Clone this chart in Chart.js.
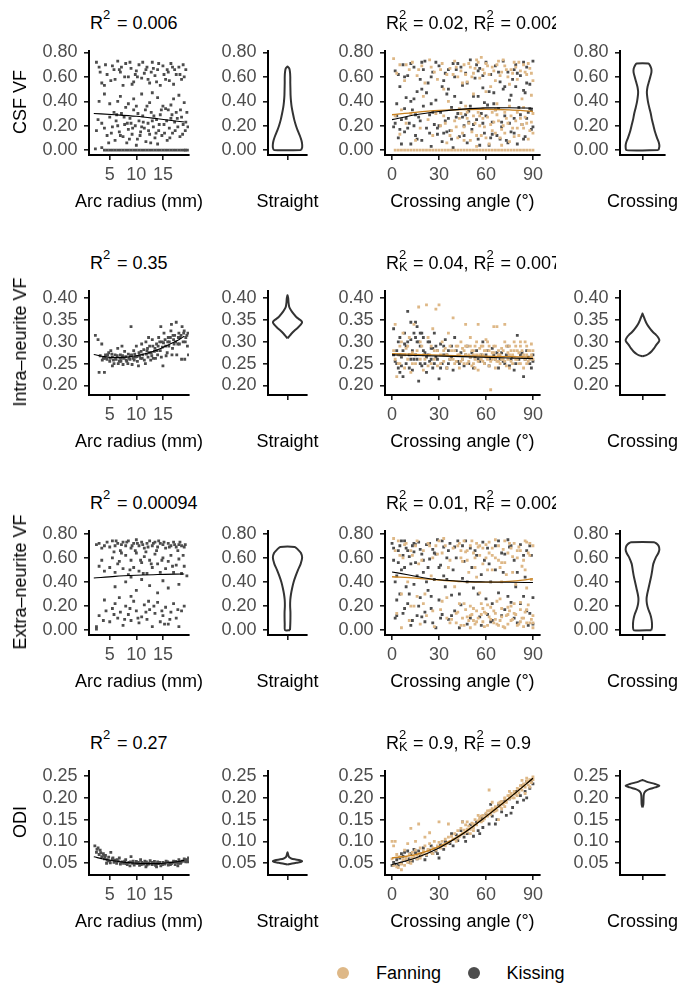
<!DOCTYPE html>
<html><head><meta charset="utf-8">
<script src="https://cdn.jsdelivr.net/npm/chart.js@4/dist/chart.umd.min.js"></script>
<style>
html,body{margin:0;padding:0;background:#fff}
#wrap{position:relative;width:680px;height:987px;overflow:hidden;font-family:'Liberation Sans',Arial,sans-serif;font-size:18px;color:#000}
canvas{position:absolute}
.t{position:absolute;white-space:nowrap;line-height:20px;height:20px}
.c{text-align:center;width:240px}
.clip{overflow:hidden;height:30px;padding-top:0}
.ss{display:inline-block;position:relative;width:9px;height:18px;vertical-align:baseline}
.ss i,.ss b{position:absolute;left:0;font-style:normal;font-weight:normal;font-size:13px;line-height:13px}
.ss i{top:-3px}.ss b{top:9.6px}
.yt{transform:translate(-50%,-50%) rotate(-90deg)}
.dot{position:absolute;width:12px;height:12px;border-radius:50%}
</style></head><body><div id="wrap"></div>
<script>
// ---------------- DATA ----------------
const rowNames = ['CSF VF','Intra\u2013neurite VF','Extra\u2013neurite VF','ODI'];
const straightR2 = ['0.006','0.35','0.00094','0.27'];
const crossR2K = ['0.02','0.04','0.01','0.9'];
const crossR2F = ['0.002','0.007','0.002','0.9'];
const seriesNames = ['Fanning','Kissing'];

const arcTicks = [5,10,15];
const angleTicks = [0,30,60,90];
const yTicksVF = [0,0.2,0.4,0.6,0.8];
const yTicksIntra = [0.2,0.25,0.3,0.35,0.4];
const yTicksODI = [0.05,0.1,0.15,0.2,0.25];

// straight fibre: [arc radius, value] pairs
const csfStraight = [4,0,5,0,6.5,0,8,0,9,0,10.5,0,11.5,0,12.5,0,13.5,0,14.5,0,15.5,0,16.5,0,17.5,0,18.5,0,19.2,0,3.5,0.02,2.3,0.01,7,0,
2.5,0.16,3.5,0.22,4.5,0.12,5,0.27,5.5,0.19,6,0.08,6.2,0.24,6.8,0.15,7.2,0.30,7.5,0.11,7.8,0.21,8.2,0.06,8.5,0.17,8.8,0.26,9.2,0.13,9.5,0.33,9.8,0.20,10.2,0.09,10.5,0.24,10.8,0.15,11.2,0.28,11.5,0.18,11.8,0.07,12.2,0.22,12.5,0.13,12.8,0.31,13.2,0.19,13.5,0.10,13.8,0.25,14.2,0.16,14.5,0.29,14.8,0.12,15.2,0.21,15.5,0.34,15.8,0.08,16.2,0.18,16.5,0.26,16.8,0.14,17.2,0.23,17.5,0.31,17.8,0.19,18.2,0.11,18.5,0.27,18.8,0.21,19.2,0.16,19.5,0.31,5.8,0.31,8,0.35,10,0.04,12,0.36,14,0.05,16,0.33,6.5,0.20,11,0.19,13,0.24,9,0.22,
3,0.40,7,0.44,8.5,0.38,9.5,0.42,11,0.46,12.5,0.39,14,0.43,16.5,0.37,18,0.45,19,0.39,10,0.36,5,0.38,
2.5,0.72,3,0.68,3.5,0.55,4,0.53,4.5,0.62,5.5,0.69,6,0.58,6.5,0.73,7,0.64,7.5,0.53,8,0.71,8.5,0.60,9,0.67,9.5,0.56,10,0.65,10.5,0.70,11,0.59,11.5,0.63,12,0.68,12.5,0.55,13,0.72,13.5,0.61,14,0.66,14.5,0.53,15,0.69,15.5,0.58,16,0.64,16.5,0.71,17,0.54,17.5,0.62,18,0.68,18.5,0.58,19,0.60,6.8,0.66,9.8,0.62,12.8,0.64,15.8,0.66,
4.5,0,5.5,0,6,0,7.5,0,8.5,0,9.5,0,10,0,11,0,12,0,13,0,14,0,15,0,16,0,17,0,18,0,19,0,19.6,0,
2.8,0.25,4,0.18,4.8,0.06,5.3,0.14,6.3,0.29,7,0.12,7.7,0.27,8.3,0.22,8.7,0.09,9.3,0.18,10.3,0.30,10.7,0.12,11.3,0.23,11.7,0.33,12.3,0.16,12.7,0.06,13.3,0.28,13.7,0.14,14.3,0.21,14.7,0.33,15.3,0.14,15.7,0.24,16.3,0.10,16.7,0.29,17.3,0.16,17.7,0.26,18.3,0.33,18.7,0.13,19.3,0.23,19.7,0.19,
3.2,0.64,4.2,0.70,5.2,0.57,5.8,0.66,7.2,0.68,7.8,0.60,8.8,0.72,9.2,0.54,10.2,0.60,11.2,0.72,11.8,0.66,12.2,0.58,13.2,0.67,13.8,0.56,14.2,0.71,15.2,0.62,16.2,0.57,16.8,0.68,17.2,0.66,18.2,0.62,18.8,0.70,19.3,0.66,
4,0.46,6.5,0.40,13,0.47,15,0.36,17,0.42];
const intraStraight = [2.3,0.315,2.8,0.305,3,0.23,3.5,0.295,4,0.23,4.2,0.27,4.5,0.26,4.8,0.275,5,0.255,5.2,0.28,5.5,0.265,5.8,0.25,6,0.27,6.2,0.26,6.5,0.285,6.8,0.255,7,0.27,7.2,0.262,7.5,0.248,7.8,0.278,8,0.266,8.2,0.255,8.5,0.272,8.8,0.26,9,0.335,9.2,0.248,9.5,0.28,9.8,0.265,10,0.29,10.2,0.255,10.5,0.275,10.8,0.262,11,0.295,11.2,0.27,11.5,0.258,11.8,0.3,12,0.28,12.2,0.265,12.5,0.29,12.8,0.275,13,0.305,13.2,0.262,13.5,0.285,13.8,0.295,14,0.27,14.2,0.31,14.5,0.28,14.8,0.3,15,0.245,15.2,0.32,15.5,0.29,15.8,0.275,16,0.31,16.2,0.3,16.5,0.325,16.8,0.285,17,0.305,17.2,0.315,17.5,0.345,17.8,0.295,18,0.32,18.2,0.31,18.5,0.26,18.8,0.3,19,0.325,19.3,0.31,19.6,0.29,19.8,0.27,14.6,0.335,16.6,0.34,12.3,0.31,7.3,0.29,5.5,0.245,6.6,0.25,8.4,0.25,10.4,0.245,11.7,0.25,13.6,0.262,15.6,0.268,17.6,0.27,18.6,0.335,9.6,0.258,3.8,0.262,19.1,0.26,
3.2,0.268,3.6,0.258,4.1,0.262,4.6,0.27,5.1,0.262,5.4,0.272,5.7,0.258,6.1,0.262,6.4,0.268,6.9,0.262,7.1,0.255,7.4,0.268,7.7,0.262,8.1,0.258,8.6,0.262,8.9,0.268,9.1,0.27,9.4,0.262,9.7,0.272,10.1,0.266,10.6,0.268,10.9,0.278,11.1,0.262,11.4,0.282,11.9,0.272,12.1,0.285,12.4,0.275,12.9,0.268,13.1,0.29,13.4,0.278,13.9,0.28,14.1,0.29,14.4,0.3,14.9,0.288,15.1,0.298,15.4,0.305,15.9,0.3,16.1,0.29,16.4,0.31,16.9,0.315,17.1,0.295,17.4,0.3,17.9,0.31,18.1,0.295,18.4,0.315,18.9,0.32,19.2,0.3,19.5,0.315,19.7,0.32,16.7,0.27,14.7,0.265,12.7,0.258];
const extraStraight = [2.5,0.71,3.5,0.68,4.5,0.73,5,0.69,5.5,0.74,6,0.70,6.5,0.72,7,0.66,7.5,0.73,8,0.70,8.5,0.74,9,0.68,9.5,0.72,10,0.75,10.5,0.70,11,0.73,11.5,0.68,12,0.72,12.5,0.74,13,0.70,13.5,0.73,14,0.69,14.5,0.72,15,0.71,15.5,0.68,16,0.72,16.5,0.70,17,0.73,17.5,0.69,18,0.71,18.5,0.70,19,0.69,
3,0.53,4,0.49,5.5,0.60,6,0.48,6.8,0.57,7.5,0.51,8,0.62,8.5,0.46,9,0.58,9.5,0.52,10,0.64,10.5,0.49,11,0.56,11.5,0.61,12,0.47,12.5,0.58,13,0.52,13.5,0.63,14,0.55,14.5,0.48,15,0.60,15.5,0.51,16,0.57,16.5,0.62,17,0.48,17.5,0.54,18,0.59,18.5,0.47,19,0.53,19.5,0.45,7.2,0.64,11.8,0.65,
6,0.36,8,0.40,10,0.33,11,0.42,12.5,0.37,14,0.31,15,0.41,16,0.35,18,0.38,9,0.44,
2.5,0.03,3,0.12,4,0.25,5,0.07,5.5,0.18,6,0.22,6.5,0.10,7,0.15,7.5,0.04,8,0.20,8.5,0.13,9,0.08,9.5,0.24,10,0.16,10.5,0.06,11,0.11,11.5,0.21,12,0.09,12.5,0.17,13,0.03,13.5,0.14,14,0.23,14.5,0.07,15,0.12,15.5,0.19,16,0.05,16.5,0.15,17,0.22,17.5,0.10,18,0.03,18.5,0.16,19,0.20,2.5,0.01,9,0.28,
3,0.72,4,0.70,6.2,0.74,7.2,0.71,8.2,0.73,9.2,0.70,10.2,0.72,11.2,0.71,12.2,0.69,13.2,0.72,14.2,0.74,15.2,0.73,16.2,0.69,17.2,0.71,18.2,0.73,19.2,0.71,5.8,0.65,9.8,0.66,13.8,0.66,17.8,0.66,
3.5,0.58,5,0.52,6.5,0.55,8.8,0.50,10.8,0.58,12.8,0.55,14.8,0.58,16.8,0.53,18.8,0.62,11.3,0.47,
3.8,0.08,5.8,0.13,7.8,0.09,8.8,0.18,10.3,0.10,11.8,0.15,13.3,0.20,14.8,0.16,16.3,0.09,17.8,0.17,12.3,0.24,15.3,0.05,6.8,0.27,4.3,0.16];
const odiStraight = [2.2,0.09,2.5,0.075,2.8,0.085,3,0.07,3.2,0.08,3.5,0.065,3.8,0.072,4,0.06,4.2,0.068,4.5,0.058,4.8,0.064,5,0.055,5.2,0.075,5.5,0.06,5.8,0.052,6,0.057,6.3,0.05,6.6,0.055,7,0.048,7.3,0.053,7.6,0.05,8,0.058,8.3,0.047,8.6,0.052,9,0.065,9.3,0.05,9.6,0.046,10,0.054,10.3,0.049,10.6,0.045,11,0.052,11.3,0.048,11.6,0.055,12,0.046,12.3,0.05,12.6,0.056,13,0.047,13.3,0.051,13.6,0.045,14,0.053,14.3,0.049,14.6,0.044,15,0.052,15.3,0.048,15.6,0.055,16,0.046,16.3,0.051,16.6,0.049,17,0.055,17.3,0.047,17.6,0.052,18,0.058,18.3,0.05,18.6,0.055,19,0.06,19.3,0.053,19.6,0.057,19.8,0.062,4.4,0.05,6.8,0.062,10.8,0.058,13.8,0.042,17.8,0.044,11.8,0.042,8.8,0.044,
5.1,0.051,5.9,0.055,6.4,0.058,7.1,0.051,7.8,0.055,8.1,0.049,8.9,0.053,9.4,0.055,9.9,0.05,10.4,0.052,10.9,0.047,11.4,0.05,11.9,0.053,12.4,0.048,12.9,0.052,13.4,0.054,13.9,0.049,14.4,0.052,14.9,0.047,15.4,0.05,15.9,0.053,16.4,0.047,16.9,0.052,17.4,0.054,17.9,0.05,18.4,0.052,18.9,0.055,19.4,0.058,19.7,0.053,4.1,0.064,4.7,0.056,5.6,0.062,3.3,0.074,2.6,0.082,3.9,0.068];

// crossing fibres: [angle, value] pairs
const csfKiss = [1,0.19,2,0.65,3,0.38,4,0.10,5,0.52,6,0.25,7,0.70,8,0.15,9,0.43,10,0.61,11,0.22,12,0.05,13,0.33,14,0.68,15,0.12,16,0.48,17,0.27,18,0.58,19,0.08,20,0.36,21,0.73,22,0.18,23,0.55,24,0.29,25,0.03,26,0.64,27,0.21,28,0.41,29,0.13,30,0.69,31,0.31,32,0.07,33,0.57,34,0.24,35,0.46,36,0.66,37,0.16,38,0.35,39,0.02,40,0.60,41,0.27,42,0.71,43,0.11,44,0.39,45,0.53,46,0.20,47,0.63,48,0.06,49,0.32,50,0.74,51,0.17,52,0.44,53,0.59,54,0.25,55,0.09,56,0.67,57,0.30,58,0.51,59,0.14,60,0.72,61,0.37,62,0.04,63,0.62,64,0.23,65,0.47,66,0.69,67,0.12,68,0.34,69,0.56,70,0.19,71,0.73,72,0.28,73,0.08,74,0.64,75,0.41,76,0.15,77,0.58,78,0.26,79,0.70,80,0.05,81,0.35,82,0.61,83,0.21,84,0.49,85,0.11,86,0.68,87,0.31,88,0.54,89,0.17,90,0.73,3,0.28,8,0.60,14,0.20,19,0.72,25,0.38,33,0.14,41,0.66,47,0.29,55,0.44,63,0.10,71,0.50,78,0.66,86,0.26,12,0.40,36,0.50,58,0.22,84,0.72,
2,0.22,4,0.62,6,0.05,8,0.34,10,0.18,12,0.71,14,0.42,16,0.09,18,0.24,20,0.66,22,0.47,24,0.14,26,0.31,28,0.72,30,0.20,32,0.52,34,0.63,36,0.26,38,0.09,40,0.44,42,0.30,44,0.68,46,0.12,48,0.55,50,0.36,52,0.21,54,0.70,56,0.04,58,0.61,60,0.28,62,0.48,64,0.13,66,0.33,68,0.64,70,0.23,72,0.52,74,0.06,76,0.45,78,0.14,80,0.63,82,0.29,84,0.09,86,0.55,88,0.34,90,0.19,5,0.17,15,0.29,25,0.60,35,0.15,45,0.27,55,0.65,65,0.38,75,0.22,85,0.47,9,0.26,19,0.50,29,0.18,39,0.71,49,0.23,59,0.39,69,0.09,79,0.52,89,0.33];
const csfFan = [2,0,6,0,10,0,14,0,18,0,22,0,26,0,30,0,34,0,38,0,42,0,46,0,50,0,54,0,58,0,62,0,66,0,70,0,74,0,78,0,82,0,86,0,90,0,
1,0.75,3,0.63,5,0.70,8,0.57,11,0.66,13,0.72,16,0.61,19,0.69,21,0.55,24,0.74,27,0.64,29,0.58,32,0.71,35,0.62,37,0.67,40,0.73,42,0.60,44,0.65,46,0.70,48,0.56,50,0.68,52,0.63,54,0.74,56,0.59,58,0.66,60,0.71,62,0.62,64,0.68,66,0.57,68,0.73,70,0.64,72,0.69,74,0.60,76,0.66,78,0.72,80,0.58,82,0.65,84,0.70,86,0.62,88,0.67,90,0.57,57,0.76,45,0.55,63,0.52,75,0.54,33,0.50,
6,0.33,20,0.44,36,0.40,52,0.46,67,0.38,83,0.42,43,0.34,60,0.48,75,0.36,89,0.45,28,0.30,
2,0.28,5,0.13,9,0.22,12,0.30,15,0.08,18,0.18,23,0.25,26,0.12,31,0.20,33,0.28,35,0.06,38,0.16,40,0.24,42,0.10,44,0.30,46,0.19,48,0.26,50,0.08,51,0.15,53,0.22,55,0.31,57,0.12,59,0.19,61,0.27,62,0.05,64,0.16,65,0.23,67,0.29,69,0.10,71,0.20,72,0.14,73,0.26,75,0.07,77,0.18,79,0.24,80,0.31,81,0.12,83,0.21,85,0.27,87,0.09,88,0.16,89,0.23,90,0.30,58,0.34,66,0.33,47,0.36,84,0.35,54,0.03,70,0.04,
4,0,8,0,12,0,16,0,20,0,24,0,28,0,32,0,36,0,40,0,44,0,48,0,52,0,56,0,60,0,64,0,68,0,72,0,76,0,80,0,84,0,88,0,
47,0.62,49,0.71,51,0.60,53,0.67,55,0.72,59,0.63,61,0.69,65,0.65,67,0.70,69,0.61,71,0.74,73,0.66,77,0.63,79,0.68,81,0.72,85,0.64,87,0.71,89,0.63,41,0.68,39,0.62,31,0.66,25,0.68,17,0.66,9,0.70,
34,0.22,37,0.12,41,0.19,43,0.26,45,0.14,49,0.22,52,0.28,54,0.12,56,0.20,58,0.26,60,0.10,63,0.21,66,0.14,68,0.24,70,0.17,74,0.22,76,0.28,78,0.11,82,0.26,84,0.18,86,0.22,90,0.14,46,0.08,64,0.31,72,0.31,80,0.18,56,0.28,48,0.31];
const intraKiss = [1,0.33,2,0.255,3,0.28,4,0.24,5,0.31,6,0.265,7,0.22,8,0.295,9,0.25,10,0.37,11,0.27,12,0.305,13,0.235,14,0.32,15,0.345,16,0.26,17,0.21,18,0.29,19,0.245,20,0.31,21,0.275,22,0.23,23,0.3,24,0.255,25,0.285,26,0.24,27,0.32,28,0.265,29,0.28,30,0.215,31,0.295,32,0.25,33,0.27,34,0.305,35,0.24,36,0.28,37,0.26,38,0.29,39,0.235,40,0.31,42,0.255,44,0.275,46,0.245,48,0.29,50,0.265,52,0.24,54,0.28,56,0.255,58,0.3,60,0.27,62,0.245,64,0.285,66,0.26,68,0.24,70,0.275,72,0.25,74,0.29,76,0.26,78,0.235,80,0.315,82,0.27,84,0.22,86,0.28,88,0.25,90,0.27,89,0.24,85,0.26,75,0.245,65,0.27,55,0.26,45,0.26,35,0.27,25,0.26,15,0.27,5,0.27,8,0.32,12,0.26,20,0.28,17,0.3,
1,0.27,3,0.25,4,0.3,6,0.245,7,0.28,9,0.29,11,0.24,13,0.28,14,0.26,16,0.3,18,0.25,19,0.32,21,0.25,23,0.27,24,0.3,26,0.285,27,0.25,29,0.26,31,0.24,33,0.29,36,0.25,38,0.265,41,0.28,43,0.25,47,0.27,49,0.25,51,0.275,53,0.265,57,0.27,59,0.25,61,0.28,63,0.26,67,0.275,69,0.26,71,0.255,73,0.27,77,0.265,79,0.25,81,0.26,83,0.275,87,0.265,90,0.255,10,0.3,15,0.31,12,0.345,16,0.335,18,0.32,5,0.23,22,0.265,28,0.29];
const intraFan = [2,0.34,3,0.22,4,0.27,5,0.25,6,0.3,7,0.32,8,0.24,9,0.285,10,0.26,11,0.31,12,0.23,13,0.275,14,0.34,15,0.25,17,0.38,18,0.26,19,0.29,20,0.235,22,0.385,23,0.31,24,0.27,25,0.25,26,0.33,27,0.28,28,0.375,29,0.245,30,0.385,31,0.27,32,0.3,33,0.255,34,0.285,35,0.24,36,0.32,37,0.26,38,0.28,39,0.355,40,0.25,41,0.29,42,0.27,43,0.24,44,0.3,45,0.26,46,0.28,47,0.34,48,0.25,49,0.27,50,0.29,51,0.245,52,0.28,53,0.26,54,0.3,55,0.235,56,0.27,57,0.29,58,0.255,59,0.28,60,0.265,61,0.3,62,0.245,63,0.19,64,0.275,65,0.29,66,0.26,67,0.335,68,0.27,69,0.25,70,0.285,71,0.26,72,0.3,73,0.245,74,0.275,75,0.29,76,0.255,77,0.27,78,0.3,79,0.26,80,0.28,81,0.25,82,0.29,83,0.265,84,0.24,85,0.3,86,0.27,87,0.255,88,0.28,89,0.295,90,0.26,65,0.335,72,0.34,55,0.34,47,0.29,58,0.27,68,0.255,78,0.265,86,0.29,52,0.27,62,0.28,
1,0.28,2,0.26,4,0.25,5,0.29,6,0.27,8,0.27,10,0.29,12,0.27,13,0.25,16,0.28,18,0.3,20,0.27,21,0.26,23,0.245,25,0.29,27,0.26,29,0.28,31,0.25,33,0.28,35,0.27,37,0.29,39,0.26,40,0.28,41,0.255,42,0.29,43,0.27,44,0.255,45,0.285,46,0.25,47,0.27,48,0.29,49,0.255,50,0.265,51,0.28,52,0.25,53,0.29,54,0.27,55,0.255,56,0.285,57,0.26,58,0.29,59,0.25,60,0.28,61,0.26,62,0.29,63,0.255,64,0.26,65,0.275,66,0.29,67,0.255,68,0.28,69,0.27,70,0.26,71,0.28,72,0.255,73,0.29,74,0.26,75,0.27,76,0.28,77,0.25,78,0.28,79,0.29,80,0.26,81,0.275,82,0.25,83,0.28,84,0.27,85,0.26,86,0.25,87,0.28,88,0.26,89,0.27,90,0.28,53,0.24,66,0.24,75,0.24,82,0.3,50,0.31,60,0.305];
const extraKiss = [0,0.72,1,0.58,2,0.10,3,0.45,4,0.66,5,0.30,6,0.74,7,0.14,8,0.52,9,0.68,10,0.22,11,0.61,12,0.04,13,0.70,14,0.38,15,0.56,16,0.12,17,0.73,18,0.27,19,0.63,20,0.48,21,0.07,22,0.71,23,0.33,24,0.59,25,0.18,26,0.67,27,0.42,28,0.02,29,0.75,30,0.25,31,0.54,32,0.13,33,0.69,34,0.36,35,0.60,36,0.09,37,0.72,38,0.29,39,0.50,40,0.16,42,0.74,44,0.21,46,0.57,48,0.05,50,0.68,52,0.35,54,0.62,56,0.11,58,0.73,60,0.26,62,0.55,64,0.08,66,0.70,68,0.31,70,0.64,72,0.17,74,0.75,76,0.23,78,0.58,80,0.06,82,0.71,84,0.28,86,0.66,88,0.14,90,0.27,89,0.62,85,0.44,79,0.36,71,0.48,63,0.40,57,0.46,51,0.52,45,0.43,41,0.60,35,0.42,23,0.52,9,0.36,4,0.56,14,0.65,19,0.11,28,0.63,47,0.74,61,0.13,75,0.69,87,0.04,
1,0.68,2,0.40,3,0.12,5,0.70,6,0.50,7,0.62,8,0.18,10,0.66,11,0.30,12,0.55,13,0.08,15,0.71,16,0.45,17,0.20,18,0.67,20,0.58,21,0.15,22,0.40,24,0.72,25,0.28,26,0.06,27,0.64,30,0.52,31,0.10,32,0.74,33,0.45,36,0.66,38,0.12,40,0.69,43,0.30,45,0.70,48,0.40,50,0.10,53,0.66,55,0.30,57,0.04,59,0.58,61,0.68,64,0.22,66,0.50,68,0.74,70,0.12,72,0.63,74,0.28,76,0.70,78,0.10,80,0.48,82,0.22,84,0.62,86,0.16,88,0.70,90,0.05,14,0.72,8,0.74,43,0.02,63,0.07,3,0.25];
const extraFan = [1,0.76,3,0.14,5,0.62,6,0.02,8,0.71,10,0.40,11,0.08,12,0.66,14,0.20,16,0.74,18,0.05,19,0.58,21,0.30,22,0.12,24,0.70,25,0.45,27,0.03,29,0.63,31,0.17,33,0.76,35,0.27,36,0.52,38,0.09,39,0.68,40,0.36,41,0.14,43,0.72,44,0.04,45,0.57,46,0.22,47,0.65,48,0.11,49,0.48,50,0.02,51,0.74,52,0.18,53,0.60,54,0.07,55,0.69,56,0.31,57,0.13,58,0.55,59,0.03,60,0.71,61,0.21,62,0.64,63,0.09,64,0.50,65,0.16,66,0.75,67,0.05,68,0.58,69,0.26,70,0.11,71,0.67,72,0.02,73,0.46,74,0.19,75,0.72,76,0.08,77,0.61,78,0.14,79,0.38,80,0.04,81,0.69,82,0.23,83,0.53,84,0.10,85,0.74,86,0.17,87,0.64,88,0.06,89,0.42,90,0.12,48,0.66,56,0.70,64,0.62,72,0.56,80,0.66,88,0.72,44,0.60,52,0.08,60,0.14,68,0.04,76,0.20,84,0.03,50,0.12,58,0.18,66,0.09,74,0.13,82,0.07,90,0.02,54,0.44,70,0.40,86,0.35,30,0.74,20,0.66,37,0.06,
41,0.06,42,0.15,43,0.22,45,0.10,46,0.04,47,0.17,49,0.08,50,0.20,51,0.13,53,0.05,54,0.16,55,0.10,57,0.22,58,0.07,59,0.15,61,0.04,62,0.11,63,0.19,65,0.06,66,0.14,67,0.24,69,0.08,70,0.18,71,0.03,73,0.12,74,0.05,75,0.16,77,0.09,78,0.22,79,0.13,81,0.05,82,0.17,83,0.10,85,0.15,86,0.06,87,0.21,89,0.09,90,0.06,
42,0.70,44,0.66,46,0.74,48,0.58,50,0.70,52,0.64,54,0.72,56,0.62,58,0.68,60,0.60,62,0.73,64,0.68,66,0.60,68,0.70,70,0.56,72,0.74,74,0.64,76,0.68,78,0.72,80,0.60,82,0.66,84,0.58,86,0.73,88,0.62,90,0.70,53,0.52,61,0.50,69,0.52,77,0.48,85,0.50,
2,0.66,4,0.74,7,0.60,9,0.72,13,0.62,15,0.70,17,0.55,23,0.72,26,0.60,28,0.70,32,0.64,34,0.70,37,0.58,20,0.22,26,0.16,32,0.24,35,0.10,12,0.20,6,0.30,16,0.28];
const odiKiss = [0,0.045,1,0.052,2,0.048,3,0.058,4,0.046,5,0.062,6,0.05,7,0.066,8,0.075,9,0.056,10,0.078,11,0.06,12,0.072,13,0.055,14,0.082,15,0.074,16,0.06,17,0.078,18,0.068,19,0.072,20,0.085,22,0.068,24,0.08,26,0.072,28,0.078,30,0.062,31,0.092,33,0.082,35,0.098,37,0.095,39,0.09,41,0.115,42,0.102,44,0.125,46,0.11,48,0.118,50,0.138,52,0.112,54,0.145,55,0.125,57,0.155,58,0.132,60,0.162,62,0.14,64,0.158,65,0.17,67,0.15,68,0.185,70,0.168,72,0.192,73,0.16,75,0.198,77,0.178,79,0.215,80,0.19,82,0.205,83,0.228,85,0.215,86,0.238,88,0.222,89,0.24,90,0.232,84,0.195,76,0.165,66,0.14,56,0.118,47,0.1,38,0.118,29,0.072,21,0.058,11,0.052,6,0.072,45,0.145,63,0.185,86,0.2,34,0.1,25,0.09];
const odiFan = [0,0.06,0,0.1,1,0.09,1,0.045,2,0.1,3,0.07,4,0.04,5,0.065,5,0.05,6,0.035,7,0.058,8,0.045,8,0.08,9,0.062,10,0.052,10,0.095,11,0.07,12,0.058,12,0.13,13,0.075,14,0.065,15,0.08,15,0.1,16,0.06,17,0.072,17,0.14,18,0.085,19,0.068,20,0.078,21,0.09,21,0.11,22,0.07,23,0.082,24,0.095,24,0.12,25,0.075,26,0.085,27,0.1,28,0.08,29,0.09,30,0.098,30,0.145,31,0.085,32,0.1,33,0.092,34,0.105,35,0.095,36,0.11,36,0.14,37,0.1,38,0.112,39,0.105,40,0.118,41,0.1,42,0.125,43,0.112,44,0.13,45,0.118,45,0.145,46,0.126,47,0.138,48,0.122,49,0.135,50,0.128,51,0.142,52,0.132,53,0.15,54,0.138,55,0.147,56,0.155,57,0.145,58,0.16,59,0.152,60,0.165,61,0.158,62,0.17,62,0.218,63,0.162,64,0.175,65,0.168,66,0.18,67,0.172,68,0.188,69,0.18,70,0.192,71,0.185,72,0.198,73,0.19,74,0.205,75,0.198,76,0.21,77,0.2,78,0.215,79,0.208,80,0.222,81,0.212,82,0.228,83,0.218,84,0.232,85,0.225,86,0.238,87,0.23,88,0.242,89,0.235,90,0.248,85,0.21,78,0.2,72,0.18,66,0.17,58,0.148,50,0.118,42,0.108,34,0.09,26,0.072,18,0.062,12,0.05,6,0.048,3,0.042,48,0.145,55,0.16,70,0.175,80,0.205,88,0.225,75,0.215,64,0.19,68,0.15,
40,0.105,44,0.115,48,0.128,52,0.14,56,0.15,60,0.158,63,0.172,66,0.178,69,0.19,72,0.2,75,0.205,78,0.21,81,0.22,84,0.228,87,0.238,90,0.242,20,0.072,23,0.078,27,0.084,32,0.09,36,0.098,9,0.058,13,0.062,16,0.068,86,0.245,83,0.24,57,0.158,61,0.17,46,0.118,52,0.125];

// fitted curves: [x, y] pairs
const csfStraightFit = [2,0.30,6,0.29,10,0.277,14,0.257,19,0.23];
const intraStraightFit = [2,0.271,4,0.266,6,0.264,8,0.265,10,0.268,12,0.274,14,0.282,16,0.293,18,0.305,19,0.313];
const extraStraightFit = [2,0.433,6,0.446,10,0.455,14,0.462,19,0.466];
const odiStraightFit = [2,0.065,4,0.059,6,0.055,8,0.052,10,0.05,12,0.049,14,0.049,16,0.051,18,0.054,19,0.057];
const csfKissFit = [0,0.25,15,0.29,30,0.317,45,0.336,60,0.346,75,0.347,90,0.343];
const csfFanFit = [0,0.29,15,0.31,30,0.325,45,0.333,60,0.335,75,0.33,90,0.318];
const intraKissFit = [0,0.270,45,0.266,90,0.2615];
const intraFanFit = [0,0.273,45,0.268,90,0.265];
const extraKissFit = [0,0.483,10,0.46,20,0.435,30,0.418,45,0.405,60,0.40,75,0.397,90,0.395];
const extraFanFit = [0,0.443,15,0.432,30,0.416,45,0.403,60,0.398,75,0.405,90,0.425];
const odiKissFit = [0,0.047,15,0.062,30,0.085,45,0.117,60,0.157,75,0.2,90,0.245];
const odiFanFit = [0,0.062,15,0.07,30,0.088,45,0.118,60,0.158,75,0.2,90,0.245];

// violin outlines: value levels and relative density (max = 1)
const vCsfStraightY = [0,0.02,0.05,0.08,0.12,0.16,0.2,0.25,0.3,0.35,0.4,0.45,0.5,0.55,0.6,0.64,0.67,0.685];
const vCsfStraightD = [0.92,1,1,0.95,0.84,0.7,0.58,0.46,0.37,0.29,0.24,0.21,0.2,0.19,0.19,0.17,0.12,0];
const vCsfCrossY = [0,0.03,0.06,0.1,0.15,0.2,0.25,0.3,0.35,0.4,0.45,0.48,0.52,0.56,0.6,0.64,0.67,0.7,0.71];
const vCsfCrossD = [0.95,1,0.97,0.86,0.74,0.65,0.56,0.49,0.4,0.32,0.27,0.26,0.3,0.38,0.46,0.53,0.52,0.42,0.35];
const vIntraStraightY = [0.308,0.312,0.318,0.325,0.333,0.34,0.345,0.35,0.357,0.364,0.372,0.38,0.39,0.4,0.407];
const vIntraStraightD = [0,0.1,0.25,0.45,0.72,0.92,1,0.88,0.6,0.42,0.25,0.12,0.07,0.05,0];
const vIntraCrossY = [0.267,0.269,0.272,0.278,0.285,0.293,0.3,0.304,0.31,0.316,0.322,0.329,0.336,0.344,0.351,0.358,0.365];
const vIntraCrossD = [0,0.2,0.35,0.53,0.68,0.82,0.96,1,0.93,0.8,0.63,0.47,0.34,0.22,0.14,0.07,0];
const vExtraStraightY = [0,0.05,0.1,0.15,0.2,0.25,0.3,0.35,0.4,0.45,0.5,0.55,0.6,0.64,0.67,0.69];
const vExtraStraightD = [0.17,0.19,0.2,0.2,0.18,0.19,0.24,0.32,0.42,0.56,0.72,0.9,1,0.92,0.7,0.5];
const vExtraCrossY = [0,0.02,0.06,0.1,0.14,0.18,0.22,0.26,0.3,0.35,0.4,0.45,0.5,0.55,0.6,0.64,0.67,0.7,0.72,0.73];
const vExtraCrossD = [0.52,0.56,0.56,0.52,0.44,0.33,0.26,0.24,0.28,0.36,0.44,0.52,0.58,0.64,0.78,0.94,1,0.95,0.82,0.68];
const vOdiStraightY = [0.047,0.049,0.051,0.053,0.055,0.057,0.059,0.061,0.063,0.066,0.069,0.072,0.075];
const vOdiStraightD = [0,0.25,0.6,0.9,1,0.85,0.5,0.25,0.14,0.08,0.05,0.03,0];
const vOdiCrossY = [0.178,0.185,0.195,0.205,0.211,0.216,0.22,0.224,0.228,0.232,0.235,0.238,0.241];
const vOdiCrossD = [0,0.05,0.06,0.07,0.1,0.2,0.4,0.75,1,0.75,0.45,0.2,0];

// ---------------- DRAWING ----------------
const FONT = "'Liberation Sans', Arial, sans-serif";
Chart.defaults.font.family = FONT;
Chart.defaults.font.size = 18;
const COL_K = '#4D4D4D', COL_F = '#DEB887', COL_FLINE = '#C8811E';
const wrap = document.getElementById('wrap');

function pairs(a){const o=[];for(let i=0;i<a.length;i+=2)o.push({x:a[i],y:a[i+1]});return o;}
function violinPath(ys, ds){
  const r=[], l=[];
  for(let i=0;i<ys.length;i++) r.push({x:1+0.45*ds[i], y:ys[i]});
  for(let i=ys.length-1;i>=0;i--) l.push({x:1-0.45*ds[i], y:ys[i]});
  return r.concat(l,[r[0]]);
}
function pts(arr,color,order){return {data:pairs(arr),showLine:false,pointStyle:'rect',pointRadius:2,pointBorderWidth:0,backgroundColor:color,borderColor:color,order:order};}
function fit(arr,color,w){return {data:pairs(arr),showLine:true,pointRadius:0,borderColor:color,borderWidth:w,fill:false,tension:0.4,cubicInterpolationMode:'monotone',order:0};}
function vio(ys,ds){return {data:violinPath(ys,ds),showLine:true,pointRadius:0,borderColor:'#333333',borderWidth:2,fill:false,tension:0.25,borderJoinStyle:'round',order:0};}

function axis(min,max,tickVals,fmt,pad,fixer){
  return {type:'linear',min:min,max:max,
    afterBuildTicks:s=>{s.ticks=tickVals.map(v=>({value:v}));},
    afterFit:fixer,
    grid:{display:true,drawOnChartArea:false,drawTicks:true,tickLength:5,color:'#1a1a1a',lineWidth:1.6},
    border:{display:true,color:'#000',width:2},
    ticks:{color:'#4D4D4D',padding:pad,maxRotation:0,minRotation:0,autoSkip:false,callback:fmt,font:{size:18,family:FONT}}};
}

function panel(o){
  const padT=14, xH=40, ch=107;
  const w=o.yW+(o.cr-o.cl)+o.padR, h=padT+ch+xH;
  const c=document.createElement('canvas');
  c.width=w; c.height=h;
  c.style.left=(o.cl-o.yW)+'px'; c.style.top=(o.ct-padT)+'px';
  c.style.width=w+'px'; c.style.height=h+'px';
  wrap.appendChild(c);
  new Chart(c,{type:'scatter',data:{datasets:o.datasets},options:{
    responsive:false,animation:false,devicePixelRatio:1,events:[],
    layout:{padding:{top:padT,right:o.padR,left:0,bottom:0}},
    plugins:{legend:{display:false},tooltip:{enabled:false},title:{display:false}},
    scales:{
      x:axis(o.xMin,o.xMax,o.xTicks,o.xFmt,4,s=>{s.height=xH;}),
      y:axis(o.yMin,o.yMax,o.yTicks,v=>v.toFixed(2),6.5,s=>{s.width=o.yW;})
    }}});
}

function text(html,cls,left,top,extra){
  const d=document.createElement('div');
  d.className='t '+cls; d.innerHTML=html;
  d.style.left=left+'px'; d.style.top=top+'px';
  if(extra) Object.assign(d.style,extra);
  wrap.appendChild(d); return d;
}

const rows = [
  {st:csfStraight,stFit:csfStraightFit,k:csfKiss,f:csfFan,kFit:csfKissFit,fFit:csfFanFit,vs:[vCsfStraightY,vCsfStraightD],vc:[vCsfCrossY,vCsfCrossD],yMin:-0.04,yMax:0.81,yT:yTicksVF},
  {st:intraStraight,stFit:intraStraightFit,k:intraKiss,f:intraFan,kFit:intraKissFit,fFit:intraFanFit,vs:[vIntraStraightY,vIntraStraightD],vc:[vIntraCrossY,vIntraCrossD],yMin:0.178,yMax:0.416,yT:yTicksIntra},
  {st:extraStraight,stFit:extraStraightFit,k:extraKiss,f:extraFan,kFit:extraKissFit,fFit:extraFanFit,vs:[vExtraStraightY,vExtraStraightD],vc:[vExtraCrossY,vExtraCrossD],yMin:-0.04,yMax:0.82,yT:yTicksVF},
  {st:odiStraight,stFit:odiStraightFit,k:odiKiss,f:odiFan,kFit:odiKissFit,fFit:odiFanFit,vs:[vOdiStraightY,vOdiStraightD],vc:[vOdiCrossY,vOdiCrossD],yMin:0.023,yMax:0.261,yT:yTicksODI}
];

const intFmt = v=>String(v), noLab = ()=>'';
rows.forEach((r,i)=>{
  const dy=240*i, ct=48+dy;
  panel({cl:89,cr:189,ct:ct,yW:89,padR:20,xMin:1.1,xMax:19.9,xTicks:arcTicks,xFmt:intFmt,yMin:r.yMin,yMax:r.yMax,yTicks:r.yT,
    datasets:[fit(r.stFit,'#000',1.1),pts(r.st,COL_K,2)]});
  panel({cl:268,cr:307,ct:ct,yW:60,padR:20,xMin:0.4,xMax:1.6,xTicks:[1],xFmt:noLab,yMin:r.yMin,yMax:r.yMax,yTicks:r.yT,
    datasets:[vio(r.vs[0],r.vs[1])]});
  panel({cl:385,cr:540,ct:ct,yW:60,padR:20,xMin:-4.5,xMax:94.5,xTicks:angleTicks,xFmt:intFmt,yMin:r.yMin,yMax:r.yMax,yTicks:r.yT,
    datasets:[fit(r.kFit,'#000',1.1),fit(r.fFit,COL_FLINE,1.3),pts(r.f,COL_F,1),pts(r.k,COL_K,2)]});
  panel({cl:620,cr:665,ct:ct,yW:60,padR:15,xMin:0.4,xMax:1.6,xTicks:[1],xFmt:noLab,yMin:r.yMin,yMax:r.yMax,yTicks:r.yT,
    datasets:[vio(r.vc[0],r.vc[1])]});

  // titles
  text('R<span class="ss"><i>2</i></span> = '+straightR2[i],'',90,10.5+dy);
  text('R<span class="ss"><i>2</i><b>K</b></span> = '+crossR2K[i]+', R<span class="ss"><i>2</i><b>F</b></span> = '+crossR2F[i],'clip',386,2.5+dy,{width:170+'px',height:'30px',paddingTop:'8px'});
  // axis titles
  text('Arc radius (mm)','c',139-120,191+dy);
  text('Straight','c',287.5-120,191+dy);
  text('Crossing angle (\u00B0)','c',462.5-120,191+dy);
  text('Crossing','c',642.5-120,191+dy);
  text(rowNames[i],'yt',20,101.5+dy);
});

// legend
const d1=document.createElement('div'); d1.className='dot'; d1.style.background=COL_F; d1.style.left='337px'; d1.style.top='967px'; wrap.appendChild(d1);
text(seriesNames[0],'',376,963);
const d2=document.createElement('div'); d2.className='dot'; d2.style.background=COL_K; d2.style.left='468px'; d2.style.top='967px'; wrap.appendChild(d2);
text(seriesNames[1],'',506.5,963);
</script></body></html>
